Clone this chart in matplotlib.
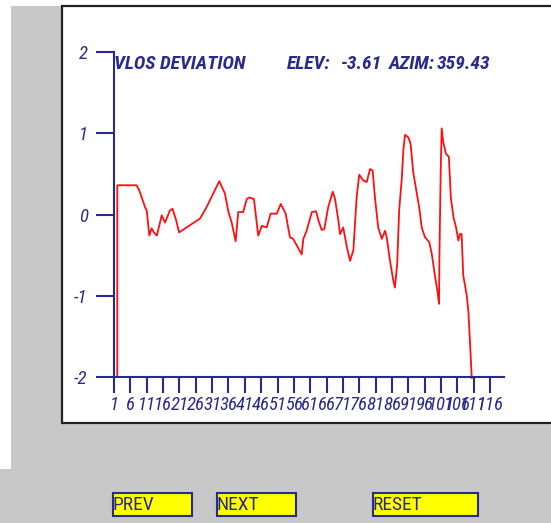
import numpy as np
import matplotlib
matplotlib.use("Agg")
import matplotlib.pyplot as plt
from matplotlib.patches import Rectangle

# %% VLOS deviation profile (sample index vs deviation)
sample_idx = [2.0, 2.0, 7.9, 8.7, 10.5, 11.0, 11.8, 12.5, 13.2, 14.1, 15.6, 16.6,
              18.1, 18.9, 20.0, 20.9, 27.3, 29.3, 33.2, 34.9, 36.0, 37.0, 38.2,
              39.0, 40.5, 41.6, 42.4, 43.8, 45.1, 46.2, 47.7, 48.9, 50.8, 52.0,
              53.5, 54.8, 55.8, 57.7, 58.4, 58.9, 59.9, 61.5, 62.8, 63.5, 64.5,
              65.3, 66.5, 67.9, 68.6, 69.6, 70.1, 71.1, 72.2, 73.2, 74.2, 75.2,
              76.0, 77.2, 78.3, 79.3, 80.1, 80.8, 81.8, 82.9, 83.9, 84.4, 85.4,
              86.4, 86.9, 87.6, 88.2, 89.0, 89.5, 90.0, 91.0, 91.7, 92.5, 93.6,
              94.4, 95.1, 96.1, 97.4, 98.2, 99.2, 99.9, 100.4, 100.5, 100.9,
              101.2, 101.7, 102.5, 103.4, 104.0, 104.8, 105.6, 106.3, 106.8,
              107.3, 107.8, 108.9, 109.4, 109.9, 110.4]
vlos_dev = [-2.0, 0.36, 0.36, 0.30, 0.09, 0.05, -0.26, -0.17, -0.22, -0.26, -0.01,
            -0.10, 0.05, 0.07, -0.07, -0.22, -0.05, 0.09, 0.41, 0.26, 0.03, -0.10,
            -0.33, 0.03, 0.03, 0.19, 0.21, 0.19, -0.26, -0.14, -0.16, 0.01, 0.01,
            0.13, 0.01, -0.28, -0.30, -0.44, -0.49, -0.30, -0.20, 0.03, 0.04,
            -0.07, -0.19, -0.18, 0.09, 0.28, 0.19, -0.07, -0.24, -0.16, -0.40,
            -0.57, -0.44, 0.21, 0.49, 0.42, 0.40, 0.56, 0.54, 0.21, -0.16, -0.30,
            -0.20, -0.28, -0.57, -0.81, -0.90, -0.61, 0.05, 0.44, 0.80, 0.98,
            0.95, 0.87, 0.52, 0.26, 0.07, -0.16, -0.28, -0.34, -0.49, -0.77,
            -0.94, -1.10, -0.57, 0.52, 1.06, 0.89, 0.75, 0.71, 0.21, -0.03,
            -0.16, -0.32, -0.24, -0.24, -0.75, -1.00, -1.21, -1.60, -2.01]

x_ticks = list(range(1, 117, 5))
x_labels = [str(v) for v in x_ticks]
y_ticks = [-2, -1, 0, 1, 2]
y_labels = ['-2', '-1', '0', '1', '2']

title = "VLOS DEVIATION"
header_parts = [("ELEV:", 287), ("-3.61", 340), ("AZIM:", 389), ("359.43", 437)]
buttons = [("PREV", 113, 192), ("NEXT", 217, 296), ("RESET", 373, 478)]

# %% Style
W, H = 551, 523
navy = '#2a2a8c'
gray = '#c8c8c8'
family = ['Roboto Condensed', 'DejaVu Sans']


def fx(px):
    return px / W


def fy(py):
    return 1 - py / H


fig = plt.figure(figsize=(W / 100, H / 100), dpi=100, facecolor=gray)

# background panels
fig.patches.append(Rectangle((0, fy(469)), fx(11), 469 / H, transform=fig.transFigure,
                             facecolor='white', edgecolor='none', zorder=0))
fig.patches.append(Rectangle((0, fy(6)), 1, 6 / H, transform=fig.transFigure,
                             facecolor='white', edgecolor='none', zorder=0))
fig.patches.append(Rectangle((fx(62), fy(423)), fx(520), (423 - 6) / H,
                             transform=fig.transFigure, facecolor='white',
                             edgecolor='#222222', linewidth=1.6, zorder=0))

# %% Plot area
ax = fig.add_axes([fx(114), fy(377), 390 / W, 325 / H], zorder=1)
ax.patch.set_visible(False)
ax.plot(sample_idx, vlos_dev, color='#ff1010', linewidth=1.3, clip_on=False)
ax.set_xlim(1, 1 + 390 / 3.27)
ax.set_ylim(-2, 2)

for side in ('top', 'right'):
    ax.spines[side].set_visible(False)
for side in ('left', 'bottom'):
    ax.spines[side].set_color(navy)
    ax.spines[side].set_linewidth(1.5)

ax.set_xticks(x_ticks)
ax.set_xticklabels(x_labels, fontstyle='italic', family=family, size=13.5)
ax.set_yticks(y_ticks)
ax.set_yticklabels(y_labels, fontstyle='italic', family=family, size=13.5)
ax.tick_params(axis='x', direction='out', length=11.5, width=1.5, color=navy,
               labelcolor=navy, pad=2.5)
ax.tick_params(axis='y', direction='out', length=13, width=1.5, color=navy,
               labelcolor=navy, pad=6)

# %% Header texts
fig.text(fx(114), fy(64), title, color=navy, fontstyle='italic', va='center',
         ha='left', family=family, size=14, weight='bold')
for txt, px in header_parts:
    fig.text(fx(px), fy(64), txt, color=navy, fontstyle='italic', va='center',
             ha='left', family=family, size=14, weight='bold')

# %% Buttons
for label, x0, x1 in buttons:
    fig.patches.append(Rectangle((fx(x0), fy(516)), (x1 - x0) / W, 23 / H,
                                 transform=fig.transFigure, facecolor='#ffff00',
                                 edgecolor=navy, linewidth=1.5, zorder=2))
    fig.text(fx(x0), fy(504.5), label, color=navy, va='center', ha='left',
             zorder=3, family=family, size=14)

fig.savefig('out.png', dpi=100, facecolor=gray)
